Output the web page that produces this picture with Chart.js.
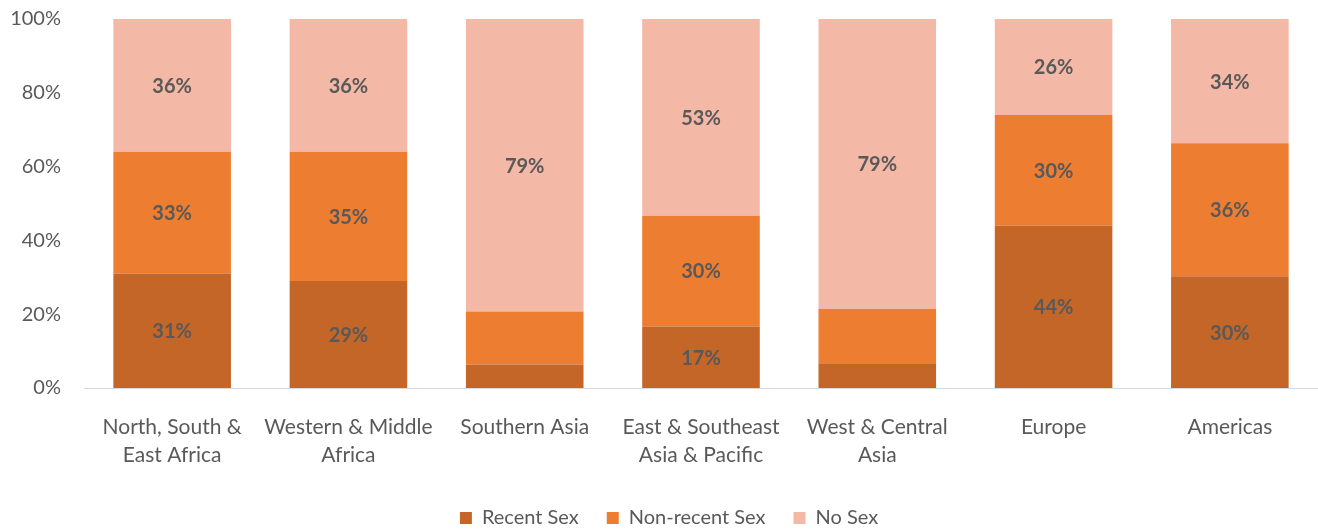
<!DOCTYPE html>
<html>
<head>
<meta charset="utf-8">
<script src="https://cdn.jsdelivr.net/npm/chart.js@4.4.1/dist/chart.umd.min.js"></script>
<style>
  html, body { margin: 0; padding: 0; background: #ffffff; }
  #wrap { width: 1318px; height: 529px; position: relative; }
</style>
</head>
<body>
<div id="wrap"><canvas id="c" width="1318" height="529"></canvas></div>
<script>
const categories = [
  ["North, South &", "East Africa"],
  ["Western & Middle", "Africa"],
  "Southern Asia",
  ["East & Southeast", "Asia & Pacific"],
  ["West & Central", "Asia"],
  "Europe",
  "Americas"
];
const recentSex    = [31, 29, 6.4, 16.7, 6.7, 44, 30.3];
const nonRecentSex = [33, 35, 14.3, 30, 14.7, 30, 36];
const noSex        = [36, 36, 79.3, 53.3, 78.6, 26, 33.7];
const yTicks = [0, 20, 40, 60, 80, 100];

const seriesNames = ["Recent Sex", "Non-recent Sex", "No Sex"];
const seriesColors = ["#C46628", "#ED7D31", "#F4B8A6"];

const FONT = "Lato, 'Open Sans', sans-serif";
const TEXT = "#595959";

const labelPlugin = {
  id: "barLabels",
  afterLayout(chart) {
    if (chart.legend) { chart.legend.left += 20; }
  },
  afterDatasetsDraw(chart) {
    const ctx = chart.ctx;
    ctx.save();
    ctx.font = "bold 20px " + FONT;
    ctx.fillStyle = TEXT;
    ctx.textAlign = "center";
    ctx.textBaseline = "middle";
    chart.data.datasets.forEach((ds, di) => {
      const meta = chart.getDatasetMeta(di);
      meta.data.forEach((bar, i) => {
        const v = ds.data[i];
        if (v < 15) return;
        const y = (bar.y + bar.base) / 2;
        ctx.fillText(Math.round(v) + "%", bar.x, y + 1);
      });
    });
    ctx.restore();
  }
};

new Chart(document.getElementById("c"), {
  type: "bar",
  data: {
    labels: categories,
    datasets: [
      { label: seriesNames[0], data: recentSex, backgroundColor: seriesColors[0] },
      { label: seriesNames[1], data: nonRecentSex, backgroundColor: seriesColors[1] },
      { label: seriesNames[2], data: noSex, backgroundColor: seriesColors[2] }
    ]
  },
  options: {
    responsive: false,
    animation: false,
    devicePixelRatio: 1,
    layout: { padding: { top: 19, right: 0, left: 0, bottom: -9 } },
    datasets: { bar: { categoryPercentage: 1, barPercentage: 0.667, borderWidth: 0 } },
    scales: {
      x: {
        stacked: true,
        afterFit(scale) { scale.height = 92; scale.paddingLeft = 0; scale.paddingRight = 0; },
        grid: { display: false, drawTicks: false },
        border: { display: true, color: "#D9D9D9", width: 1 },
        ticks: {
          color: TEXT,
          font: { family: FONT, size: 21, lineHeight: 1.33 },
          padding: 25,
          maxRotation: 0,
          autoSkip: false
        }
      },
      y: {
        stacked: true,
        min: 0,
        max: 100,
        afterFit(scale) { scale.width = 84; scale.paddingTop = 0; scale.paddingBottom = 0; },
        afterBuildTicks(scale) { scale.ticks = yTicks.map(v => ({ value: v })); },
        grid: { display: false, drawTicks: false },
        border: { display: false },
        ticks: {
          color: TEXT,
          font: { family: FONT, size: 20 },
          padding: 23,
          callback: v => v + "%"
        }
      }
    },
    plugins: {
      legend: {
        position: "bottom",
        labels: {
          color: TEXT,
          font: { family: FONT, size: 20 },
          boxWidth: 12,
          boxHeight: 12,
          padding: 28
        }
      },
      tooltip: { enabled: false }
    }
  },
  plugins: [labelPlugin]
});
</script>
</body>
</html>
